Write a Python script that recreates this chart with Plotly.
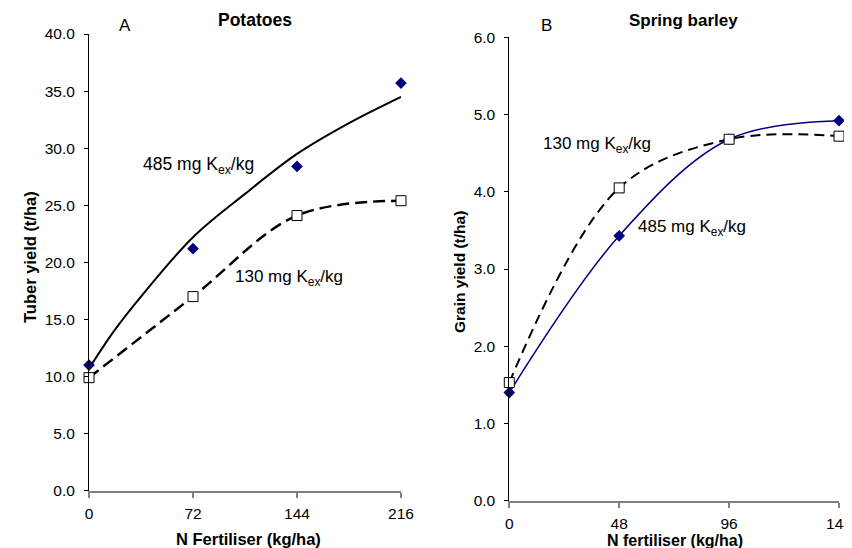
import plotly.graph_objects as go

# page has an 8px body margin; figure sized to fit the 852x548 window exactly
OFF = 8
W, H = 852 - OFF, 548 - OFF
FONT = "Liberation Sans, Arial, sans-serif"

# ---------- Data: A (Potatoes) ----------
a_n = [0, 72, 144, 216]
a_485 = [11.0, 21.2, 28.4, 35.7]
a_130 = [9.9, 17.0, 24.1, 25.4]
# fitted response curve for 485 mg Kex/kg
a_fit_n = [0, 18, 36, 72, 108, 144, 180, 216]
a_fit_485 = [10.7, 14.1, 17.0, 22.2, 26.0, 29.5, 32.2, 34.5]
a_ticks = [0, 72, 144, 216]

# ---------- Data: B (Spring barley) ----------
b_n = [0, 48, 96, 144]
b_485 = [1.4, 3.43, 4.68, 4.92]
b_130 = [1.53, 4.05, 4.68, 4.72]
b_ticks = [0, 48, 96, 144]

fig = go.Figure()

# A traces
fig.add_trace(go.Scatter(x=a_fit_n, y=a_fit_485, mode="lines", line=dict(color="black", width=2, shape="spline"),
                         xaxis="x", yaxis="y", cliponaxis=False))
fig.add_trace(go.Scatter(x=a_n, y=a_130, mode="lines", line=dict(color="black", width=2.5, shape="spline", dash="12px,6px"),
                         xaxis="x", yaxis="y", cliponaxis=False))
fig.add_trace(go.Scatter(x=a_n, y=a_485, mode="markers", marker=dict(symbol="diamond", size=9, color="#000080"),
                         xaxis="x", yaxis="y", cliponaxis=False))
fig.add_trace(go.Scatter(x=a_n, y=a_130, mode="markers",
                         marker=dict(symbol="square", size=10, color="white", line=dict(color="black", width=1)),
                         xaxis="x", yaxis="y", cliponaxis=False))

# B traces
fig.add_trace(go.Scatter(x=b_n, y=b_485, mode="lines+markers", line=dict(color="#000080", width=1.5, shape="spline"),
                         marker=dict(symbol="diamond", size=9, color="#000080"),
                         xaxis="x2", yaxis="y2", cliponaxis=False))
fig.add_trace(go.Scatter(x=b_n, y=b_130, mode="lines", line=dict(color="black", width=2, shape="spline", dash="10px,6px"),
                         xaxis="x2", yaxis="y2", cliponaxis=False))
fig.add_trace(go.Scatter(x=b_n, y=b_130, mode="markers",
                         marker=dict(symbol="square", size=10, color="white", line=dict(color="black", width=1)),
                         xaxis="x2", yaxis="y2", cliponaxis=False))

tickfont = dict(family=FONT, size=15.5, color="black")


def px(x):
    return (x - OFF) / W


def py(y):
    return 1 - (y - OFF) / H


def xax(dom, rng, ticks):
    return dict(domain=dom, range=rng, tickvals=ticks, ticks="outside", ticklen=5, tickwidth=1.5,
                tickcolor="#808080", showline=True, linecolor="#808080", linewidth=2,
                showgrid=False, zeroline=False, tickfont=tickfont, fixedrange=True,
                ticklabelstandoff=3, automargin=False, ticklabeloverflow="allow")


def yax(dom, rng, dt, anchor):
    return dict(domain=dom, range=rng, dtick=dt, tick0=0, tickformat=".1f", ticks="outside", ticklen=4,
                tickcolor="black", showline=True, linecolor="black", linewidth=1,
                showgrid=False, zeroline=False, tickfont=tickfont, anchor=anchor, fixedrange=True,
                ticklabelstandoff=6, automargin=False)


fig.update_layout(
    width=W, height=H, margin=dict(l=0, r=0, t=0, b=0, autoexpand=False),
    paper_bgcolor="white", plot_bgcolor="white", showlegend=False,
    font=dict(family=FONT, color="black"),
    xaxis=xax([px(89), px(401)], [0, 216], a_ticks) | dict(anchor="y"),
    yaxis=yax([py(490.7), py(34)], [0, 40], 5, "x"),
    xaxis2=xax([px(509.3), px(839)], [0, 144], b_ticks) | dict(anchor="y2"),
    yaxis2=yax([py(500.7), py(37.3)], [0, 6], 1, "x2"),
)


def ann(text, x, y, size=15, bold=False, xanchor="center", angle=0):
    t = f"<b>{text}</b>" if bold else text
    fig.add_annotation(text=t, xref="paper", yref="paper", x=px(x), y=py(y),
                       xanchor=xanchor, yanchor="middle", showarrow=False, textangle=angle,
                       font=dict(family=FONT, size=size, color="black"))


ann("Potatoes", 255, 20, size=17.5, bold=True)
ann("A", 125, 26, size=17)
ann("Spring barley", 683, 21, size=17, bold=True)
ann("B", 546.5, 26, size=17)
ann("Tuber yield (t/ha)", 30, 257, size=16.5, bold=True, angle=-90)
ann("Grain yield (t/ha)", 459, 272, size=15.5, bold=True, angle=-90)
ann("N Fertiliser (kg/ha)", 249, 539, size=16.5, bold=True)
ann("N fertiliser (kg/ha)", 675, 540, size=16, bold=True)
ann("485 mg K<sub>ex</sub>/kg", 141, 165, size=17.5, xanchor="left")
ann("130 mg K<sub>ex</sub>/kg", 233, 278, size=17, xanchor="left")
ann("130 mg K<sub>ex</sub>/kg", 541, 145, size=17, xanchor="left")
ann("485 mg K<sub>ex</sub>/kg", 636, 228, size=17, xanchor="left")

fig.write_html("out.html")
